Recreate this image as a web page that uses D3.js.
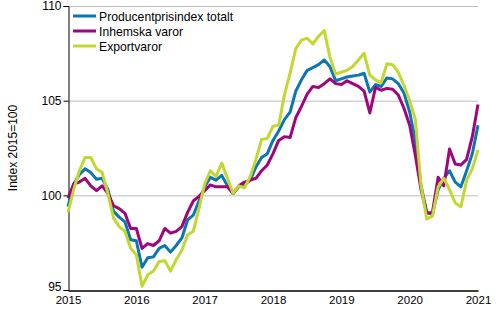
<!DOCTYPE html>
<html>
<head>
<meta charset="utf-8">
<script src="https://cdn.jsdelivr.net/npm/d3@7"></script>
<style>
  body { margin: 0; background: #fff; }
  svg { display: block; font-family: "Liberation Sans", Arial, sans-serif; }
</style>
</head>
<body>
<svg id="chart" width="500" height="330"></svg>
<script>
// Monthly index values, Jan 2015 .. Jan 2021 (2015=100)
const startYear = 2015;
const yearTicks = [2015, 2016, 2017, 2018, 2019, 2020, 2021];
const yTicks = [95, 100, 105, 110];

const totalt = [
  99.4, 100.6, 101.1, 101.4, 101.2, 100.85, 100.9, 100.3, 99.15, 98.85, 98.6, 97.65,
  97.6, 96.2, 96.7, 96.75, 97.2, 97.35, 97.0, 97.35, 97.75, 98.7, 98.95, 99.7,
  100.45, 100.95, 100.8, 101.05, 100.5, 100.1, 100.45, 100.55, 100.8, 101.5, 102.0, 102.2,
  102.9, 103.4, 104.0, 104.4, 105.5, 106.1, 106.6, 106.75, 106.9, 107.15, 106.8, 106.05,
  106.15, 106.25, 106.3, 106.35, 106.45, 105.45, 105.85, 105.75, 106.2, 106.15, 105.9, 105.4,
  104.4, 102.9, 100.5, 99.1, 99.0, 100.3, 100.9, 101.3, 100.7, 100.45, 101.3, 102.2,
  103.7
];
const inhemska = [
  99.85, 100.6, 100.7, 100.9, 100.5, 100.25, 100.5, 100.1, 99.45, 99.3, 99.05, 98.25,
  98.25, 97.2, 97.45, 97.35, 97.6, 98.25, 98.0, 98.1, 98.35, 99.1, 99.7, 99.95,
  100.25, 100.55, 100.45, 100.45, 100.45, 100.1, 100.5, 100.7, 100.8, 100.9, 101.3, 101.6,
  102.2, 102.9, 103.1, 103.05, 104.1, 104.7, 105.35, 105.75, 105.7, 105.9, 106.15, 105.9,
  105.85, 106.05, 105.9, 105.75, 105.5, 104.35, 105.7, 105.55, 105.65, 105.6, 105.3, 104.6,
  103.7, 102.1, 100.3, 99.05, 99.1, 100.95, 100.5, 102.45, 101.65, 101.6, 101.9, 103.1,
  104.8
];
const export_ = [
  99.1, 100.3, 101.3, 102.0, 102.0, 101.4, 101.2, 100.1, 98.8, 98.35, 98.1, 97.2,
  96.85, 95.2, 95.8, 96.0, 96.5, 96.55, 96.0, 96.6, 97.1, 97.9, 98.1, 99.3,
  100.6, 101.3, 101.0, 101.7, 100.9, 100.1, 100.5, 100.4, 101.0, 101.9, 102.95, 103.0,
  103.65, 103.7, 105.3, 106.45, 107.75, 108.2, 108.3, 108.0, 108.4, 108.7, 107.3, 106.4,
  106.5, 106.6, 106.8, 107.15, 107.5, 106.35, 106.1, 105.95, 106.95, 106.9, 106.5, 105.8,
  105.0, 104.0, 100.5, 98.75, 98.9, 100.45, 100.9, 100.3, 99.6, 99.4, 100.8, 101.4,
  102.4
];

const series = [
  { name: "Producentprisindex totalt", color: "#0a76b4", values: totalt },
  { name: "Inhemska varor", color: "#a0057e", values: inhemska },
  { name: "Exportvaror", color: "#c3d730", values: export_ }
];

const margin = { top: 6, right: 22, bottom: 40, left: 68 };
const width = 500, height = 330;

const svg = d3.select("#chart");

const x = d3.scaleLinear()
  .domain([startYear, 2021])
  .range([margin.left, width - margin.right]);
const y = d3.scaleLinear()
  .domain([95, 110])
  .range([height - margin.bottom, margin.top]);

const monthX = (i) => x(startYear + i / 12);

// gridlines
svg.append("g")
  .selectAll("line")
  .data(yTicks.filter((t) => t > 95))
  .join("line")
  .attr("x1", margin.left)
  .attr("x2", width - margin.right)
  .attr("y1", (d) => y(d) + 0.5)
  .attr("y2", (d) => y(d) + 0.5)
  .attr("stroke", "#bdbdbd")
  .attr("stroke-width", 1);

// y axis
const yAxis = svg.append("g")
  .attr("transform", `translate(${margin.left + 0.5},0)`)
  .call(d3.axisLeft(y).tickValues(yTicks).tickSize(5).tickPadding(2).tickFormat(d3.format("d")));
yAxis.select(".domain").attr("stroke", "#000");
yAxis.selectAll(".tick line").attr("stroke", "#000");
yAxis.selectAll(".tick text")
  .attr("font-size", 12)
  .attr("fill", "#000")
  .attr("font-family", "Liberation Sans, Arial, sans-serif")
  .attr("y", (d) => (d === 95 ? -3 : 0));

// x axis
const xAxis = svg.append("g")
  .attr("transform", `translate(0,${height - margin.bottom + 0.5})`)
  .call(d3.axisBottom(x).tickValues(yearTicks).tickSize(0).tickPadding(5).tickFormat(d3.format("d")));
xAxis.select(".domain").attr("stroke", "#000").attr("stroke-width", 1.5);
xAxis.selectAll(".tick text")
  .attr("font-size", 11.5)
  .attr("fill", "#000")
  .attr("font-family", "Liberation Sans, Arial, sans-serif");

// y axis title
svg.append("text")
  .attr("transform", `translate(17,${(margin.top + height - margin.bottom) / 2}) rotate(-90)`)
  .attr("text-anchor", "middle")
  .attr("font-size", 12)
  .attr("fill", "#000")
  .text("Index 2015=100");

// lines
const line = d3.line()
  .x((d, i) => monthX(i))
  .y((d) => y(d));

svg.append("g")
  .selectAll("path")
  .data(series)
  .join("path")
  .attr("d", (s) => line(s.values))
  .attr("fill", "none")
  .attr("stroke", (s) => s.color)
  .attr("stroke-width", 3)
  .attr("stroke-linejoin", "round");

// legend
const legend = svg.append("g")
  .selectAll("g")
  .data(series)
  .join("g")
  .attr("transform", (s, i) => `translate(73,${16 + i * 15})`);
legend.append("line")
  .attr("x1", 0).attr("x2", 23)
  .attr("stroke", (s) => s.color)
  .attr("stroke-width", 3);
legend.append("text")
  .attr("x", 26)
  .attr("y", 4.5)
  .attr("font-size", 12.2)
  .attr("fill", "#000")
  .text((s) => s.name);
</script>
</body>
</html>
